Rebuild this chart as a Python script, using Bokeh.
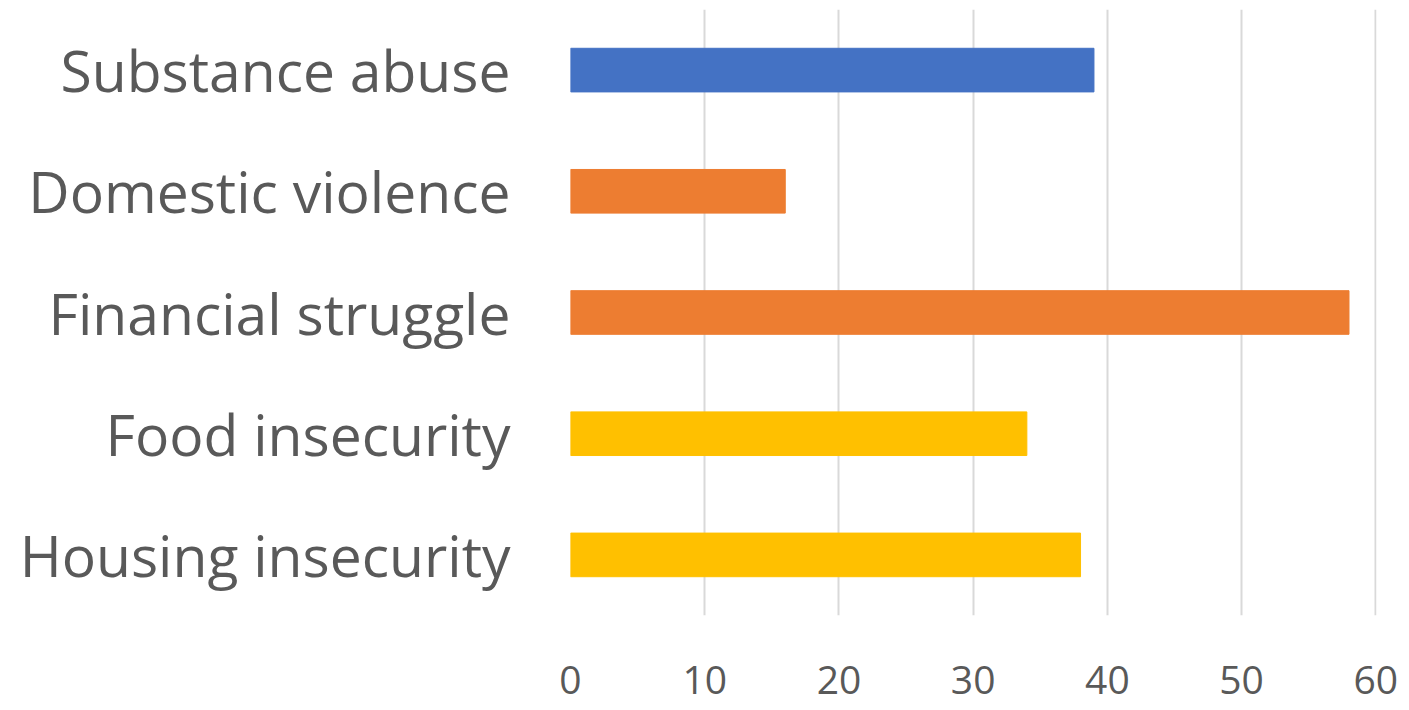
from bokeh.plotting import figure
from bokeh.models import Range1d, FactorRange, FixedTicker, ColumnDataSource
from bokeh.embed import file_html
from bokeh.resources import INLINE

categories = ["Substance abuse", "Domestic violence", "Financial struggle",
              "Food insecurity", "Housing insecurity"]
values = [39, 16, 58, 34, 38]
bar_colors = ["#4472C4", "#ED7D31", "#ED7D31", "#FFC000", "#FFC000"]
x_ticks = [0, 10, 20, 30, 40, 50, 60]

src = ColumnDataSource(dict(cat=categories, val=values, col=bar_colors))

p = figure(width=1409, height=710, output_backend="svg", toolbar_location=None,
           y_range=FactorRange(factors=list(reversed(categories))),
           x_range=Range1d(0, 60.05),
           min_border_left=570, min_border_right=33, min_border_top=9,
           min_border_bottom=95)

p.hbar(y="cat", left=0, right="val", height=0.36, color="col", source=src)

p.outline_line_color = None
p.background_fill_color = "white"
p.border_fill_color = "white"

p.ygrid.grid_line_color = None
p.xgrid.grid_line_color = "#D9D9D9"
p.xgrid.grid_line_width = 2
p.xaxis.ticker = FixedTicker(ticks=x_ticks)

for ax in (p.xaxis, p.yaxis):
    ax.axis_line_color = None
    ax.major_tick_line_color = None
    ax.minor_tick_line_color = None
    ax.major_label_text_color = "#595959"
    ax.major_label_text_font = "Open Sans"

p.xaxis.major_label_text_font_size = "39px"
p.xaxis.major_label_standoff = 44
p.yaxis.major_label_text_font_size = "57px"
p.yaxis.major_label_standoff = 54

open("out.html", "w").write(file_html(p, INLINE))
